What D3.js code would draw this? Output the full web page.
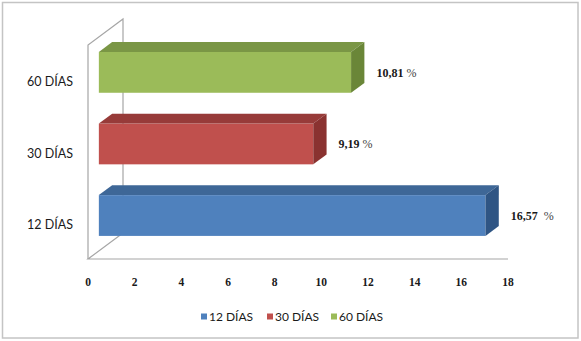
<!DOCTYPE html>
<html><head><meta charset="utf-8">
<script src="https://cdn.jsdelivr.net/npm/d3@7"></script>
<style>body{margin:0;background:#fff}</style>
</head><body>
<script>
const categories = ["60 DÍAS", "30 DÍAS", "12 DÍAS"];
const values = [10.81, 9.19, 16.57];
const valueLabels = ["10,81", "9,19", "16,57"];
const valueSuffix = [" %", " %", "  %"];
const tickValues = [0, 2, 4, 6, 8, 10, 12, 14, 16, 18];
const legendItems = ["12 DÍAS", "30 DÍAS", "60 DÍAS"];
const colors = {
  "12 DÍAS": {front: "#4F81BD", top: "#3E6797", side: "#2F5584"},
  "30 DÍAS": {front: "#C0504D", top: "#973B39", side: "#8A3230"},
  "60 DÍAS": {front: "#9BBB59", top: "#7A9645", side: "#6A8638"}
};

const W = 581, H = 341;
const svg = d3.select("body").append("svg").attr("width", W).attr("height", H);

svg.append("rect").attr("x", 2.5).attr("y", 2.5).attr("width", 575.5).attr("height", 335.5)
  .attr("fill", "#fff").attr("stroke", "#c4c4c4").attr("stroke-width", 1.5);

const x = d3.scaleLinear().domain([0, 18]).range([88, 508]);
const y = d3.scaleBand().domain(categories).range([45, 259]).paddingInner(0.43).paddingOuter(0.21);
const DX = 35, DY = 26; // wall depth
const t0 = 0.31, t1 = 0.69;

const wall = "#a6a6a6";
const g = svg.append("g");
g.append("path").attr("d", `M${x(0)},${259} L${x(0)},${45} L${x(0)+DX},${45-DY} L${x(0)+DX},${259-DY}`)
  .attr("fill", "none").attr("stroke", wall).attr("stroke-width", 1.2);
g.append("path").attr("d", `M${x(0)+DX},${259-DY} L${x(0)},${259} L${x(18)},${259}`)
  .attr("fill", "none").attr("stroke", wall).attr("stroke-width", 1.2);

categories.forEach((c, i) => {
  const col = colors[c];
  const ox = DX * t0, oy = -DY * t0;
  const dx = DX * (t1 - t0), dy = -DY * (t1 - t0);
  const x0 = x(0) + ox, x1 = x(values[i]) + ox;
  const y0 = y(c) + oy, y1 = y(c) + y.bandwidth() + oy;
  g.append("rect").attr("x", x0).attr("y", y0).attr("width", x1 - x0).attr("height", y1 - y0).attr("fill", col.front);
  g.append("path").attr("d", `M${x0},${y0} L${x0+dx},${y0+dy} L${x1+dx},${y0+dy} L${x1},${y0} Z`).attr("fill", col.top);
  g.append("path").attr("d", `M${x1},${y0} L${x1+dx},${y0+dy} L${x1+dx},${y1+dy} L${x1},${y1} Z`).attr("fill", col.side);
  const t = g.append("text").attr("x", x1 + dx + 12).attr("y", y(c) + y.bandwidth()/2 + oy)
    .attr("dy", "0.35em").attr("font-family", "Liberation Serif")
    .attr("font-size", 12).attr("fill", "#1a1a1a").style("white-space", "pre");
  t.append("tspan").attr("font-weight", "bold").text(valueLabels[i]);
  t.append("tspan").attr("fill", "#444").text(valueSuffix[i]);
  g.append("text").attr("x", 73).attr("y", y(c) + y.bandwidth()/2 + 1.5).attr("dy", "0.35em")
    .attr("text-anchor", "end").attr("font-family", "Lato").attr("font-size", 12.5).attr("fill", "#1a1a1a").text(c);
});

tickValues.forEach(v => {
  g.append("text").attr("x", x(v)).attr("y", 282).attr("dy", "0.35em").attr("text-anchor", "middle")
    .attr("font-family", "Liberation Serif").attr("font-weight", "bold").attr("font-size", 11.5)
    .attr("fill", "#1a1a1a").text(v);
});

const legendX = [201, 267, 331];
legendItems.forEach((c, i) => {
  svg.append("rect").attr("x", legendX[i]).attr("y", 313.5).attr("width", 6).attr("height", 6).attr("fill", colors[c].front);
  svg.append("text").attr("x", legendX[i] + 8).attr("y", 317).attr("dy", "0.35em")
    .attr("font-family", "Lato").attr("font-size", 12).attr("fill", "#1a1a1a").text(c);
});
</script>
</body></html>
